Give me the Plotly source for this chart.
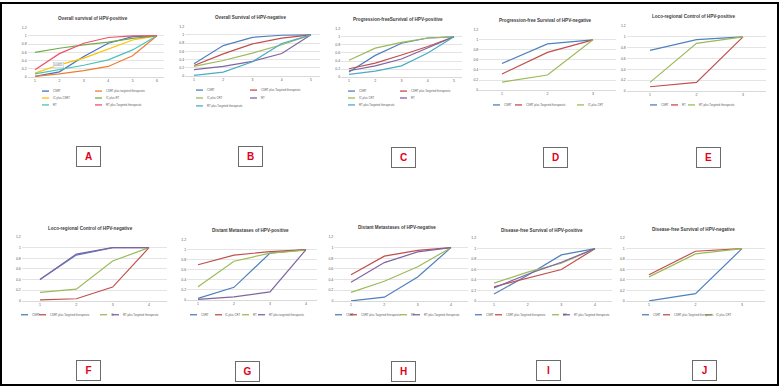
import plotly.graph_objects as go

W, H = 780, 388

# ---------------- data ----------------
A_cats = [1, 2, 3, 4, 5, 6]
A_names = ["CSRT", "CSRT plus targeted therapeutic", "IC plus CSRT", "IC plus RT", "RT", "RT plus Targeted therapeutic"]
A_CSRT = [0.02, 0.13, 0.50, 0.82, 0.98, 1.0]
A_CSRT_T = [0.02, 0.08, 0.16, 0.26, 0.52, 1.0]
A_IC_CSRT = [0.10, 0.30, 0.46, 0.68, 0.90, 1.0]
A_IC_RT = [0.60, 0.70, 0.78, 0.85, 0.94, 1.0]
A_RT = [0.08, 0.18, 0.29, 0.42, 0.66, 1.0]
A_RT_T = [0.18, 0.57, 0.82, 0.96, 1.0, 1.0]

B_cats = [1, 2, 3, 4, 5]
B_names = ["CSRT", "CSRT plus Targeted therapeutic", "IC plus CRT", "RT", "RT plus Targeted therapeutic"]
B_CSRT = [0.30, 0.74, 0.94, 0.99, 1.0]
B_CSRT_T = [0.26, 0.54, 0.78, 0.92, 1.0]
B_IC_CRT = [0.24, 0.38, 0.56, 0.76, 1.0]
B_RT = [0.16, 0.24, 0.36, 0.55, 1.0]
B_RT_T = [0.02, 0.10, 0.35, 0.79, 1.0]

C_cats = [1, 2, 3, 4, 5]
C_names = ["CSRT", "CSRT plus Targeted therapeutic", "IC plus CRT", "RT", "RT plus Targeted therapeutic"]
C_CSRT = [0.13, 0.54, 0.84, 0.97, 1.0]
C_CSRT_T = [0.21, 0.35, 0.55, 0.76, 1.0]
C_IC_CRT = [0.42, 0.72, 0.86, 0.97, 1.0]
C_RT = [0.16, 0.28, 0.45, 0.72, 1.0]
C_RT_T = [0.07, 0.15, 0.28, 0.60, 1.0]

D_cats = [1, 2, 3]
D_names = ["CSRT", "CSRT plus Targeted therapeutic", "IC plus CRT"]
D_CSRT = [0.53, 0.92, 1.0]
D_CSRT_T = [0.32, 0.75, 1.0]
D_IC_CRT = [0.16, 0.30, 1.0]

E_cats = [1, 2, 3]
E_names = ["CSRT", "RT", "RT plus Targeted therapeutic"]
E_CSRT = [0.75, 0.95, 1.0]
E_RT = [0.08, 0.16, 1.0]
E_RT_T = [0.16, 0.88, 1.0]

F_cats = [1, 2, 3, 4]
F_names = ["CSRT", "CSRT plus Targeted therapeutic", "IC", "RT plus Targeted therapeutic"]
F_CSRT = [0.40, 0.86, 1.0, 1.0]
F_CSRT_T = [0.02, 0.04, 0.26, 1.0]
F_IC = [0.16, 0.22, 0.75, 1.0]
F_RT_T = [0.40, 0.88, 1.0, 1.0]

G_cats = [1, 2, 3, 4]
G_names = ["CSRT", "IC plus CRT", "RT", "RT plus targeted therapeutic"]
G_CSRT = [0.03, 0.25, 0.93, 1.0]
G_IC_CRT = [0.70, 0.89, 0.96, 1.0]
G_RT = [0.26, 0.77, 0.93, 0.99]
G_RT_T = [0.01, 0.06, 0.16, 1.0]

H_cats = [1, 2, 3, 4]
H_names = ["CSRT", "CSRT plus Targeted therapeutic", "RT", "RT plus Targeted therapeutic"]
H_CSRT = [0.0, 0.07, 0.45, 1.0]
H_CSRT_T = [0.49, 0.84, 0.95, 1.0]
H_RT = [0.16, 0.37, 0.64, 1.0]
H_RT_T = [0.35, 0.72, 0.92, 1.0]

I_cats = [1, 2, 3, 4]
I_names = ["CSRT", "CSRT plus Targeted therapeutic", "RT", "RT plus Targeted therapeutic"]
I_CSRT = [0.13, 0.49, 0.88, 1.0]
I_CSRT_T = [0.27, 0.43, 0.60, 1.0]
I_RT = [0.34, 0.55, 0.72, 1.0]
I_RT_T = [0.25, 0.51, 0.74, 1.0]

J_cats = [1, 2, 3]
J_names = ["CSRT", "CSRT plus Targeted therapeutic", "IC plus CRT"]
J_CSRT = [0.0, 0.14, 1.0]
J_CSRT_T = [0.50, 0.95, 1.0]
J_IC_CRT = [0.46, 0.90, 1.0]

y_ticks = [0, 0.2, 0.4, 0.6, 0.8, 1, 1.2]

# ---------------- styles ----------------
BLUE, RED, GREEN, PURPLE, AQUA = "#4F81BD", "#C0504D", "#9BBB59", "#8064A2", "#4BACC6"
A_colors = ["#4472C4", "#ED7D31", "#FFC000", "#70AD47", "#4BC4B4", "#F0506A"]

panels = [
    dict(label="A", title="Overall survival of HPV-positive", cats=A_cats, names=A_names,
         vals=[A_CSRT, A_CSRT_T, A_IC_CSRT, A_IC_RT, A_RT, A_RT_T], colors=A_colors,
         px1=35, pxN=157, py0=76, py1=34, pad=0.3, tx=93, ty=17,
         leg=[(42, 90), (95, 90), (42, 97), (95, 97), (42, 104), (95, 104)], box=(88, 156)),
    dict(label="B", title="Overall Survival of HPV-negative", cats=B_cats, names=B_names,
         vals=[B_CSRT, B_CSRT_T, B_IC_CRT, B_RT, B_RT_T], colors=[BLUE, RED, GREEN, PURPLE, AQUA],
         px1=194, pxN=311, py0=75, py1=33, pad=0.3, tx=250, ty=16,
         leg=[(196, 89), (250, 89), (196, 97), (250, 97), (196, 105)], box=(250, 156)),
    dict(label="C", title="Progression-freeSurvival of HPV-positive", cats=C_cats, names=C_names,
         vals=[C_CSRT, C_CSRT_T, C_IC_CRT, C_RT, C_RT_T], colors=[BLUE, RED, GREEN, PURPLE, AQUA],
         px1=349, pxN=454, py0=76, py1=35, pad=0.3, tx=398, ty=18,
         leg=[(348, 90), (400, 90), (348, 97), (400, 97), (348, 104)], box=(403, 157)),
    dict(label="D", title="Progression-free Survival of HPV-negative", cats=D_cats, names=D_names,
         vals=[D_CSRT, D_CSRT_T, D_IC_CRT], colors=[BLUE, RED, GREEN],
         px1=502, pxN=593, py0=89, py1=38, pad=0.5, tx=545, ty=19,
         leg=[(493, 104), (515, 104), (577, 104)], box=(555, 157)),
    dict(label="E", title="Loco-regional Control of HPV-positive", cats=E_cats, names=E_names,
         vals=[E_CSRT, E_RT, E_RT_T], colors=[BLUE, RED, GREEN],
         px1=650, pxN=743, py0=90, py1=35, pad=0.5, tx=693, ty=15,
         leg=[(650, 104), (671, 104), (688, 104)], box=(708, 157)),
    dict(label="F", title="Loco-regional Control of HPV-negative", cats=F_cats, names=F_names,
         vals=[F_CSRT, F_CSRT_T, F_IC, F_RT_T], colors=[BLUE, RED, GREEN, PURPLE],
         px1=40, pxN=149, py0=302, py1=248, pad=0.5, tx=90, ty=229,
         leg=[(21, 316), (39, 316), (100, 316), (112, 316)], box=(88, 372)),
    dict(label="G", title="Distant Metastases of HPV-positive", cats=G_cats, names=G_names,
         vals=[G_CSRT, G_IC_CRT, G_RT, G_RT_T], colors=[BLUE, RED, GREEN, PURPLE],
         px1=198, pxN=306, py0=301, py1=250, pad=0.3, tx=250, ty=231,
         leg=[(190, 316), (215, 316), (242, 316), (258, 316)], box=(248, 373)),
    dict(label="H", title="Distant Metastases of HPV-negative", cats=H_cats, names=H_names,
         vals=[H_CSRT, H_CSRT_T, H_RT, H_RT_T], colors=[BLUE, RED, GREEN, PURPLE],
         px1=351, pxN=451, py0=302, py1=248, pad=0.5, tx=397, ty=228,
         leg=[(335, 316), (350, 316), (400, 316), (413, 316)], box=(403, 373)),
    dict(label="I", title="Disease-free Survival of HPV-positive", cats=I_cats, names=I_names,
         vals=[I_CSRT, I_CSRT_T, I_RT, I_RT_T], colors=[BLUE, RED, GREEN, PURPLE],
         px1=494, pxN=595, py0=302, py1=249, pad=0.5, tx=542, ty=231,
         leg=[(475, 316), (495, 316), (552, 316), (563, 316)], box=(548, 372)),
    dict(label="J", title="Disease-free Survival of HPV-negative", cats=J_cats, names=J_names,
         vals=[J_CSRT, J_CSRT_T, J_IC_CRT], colors=[BLUE, RED, GREEN],
         px1=649, pxN=742, py0=302, py1=249, pad=0.5, tx=693, ty=230,
         leg=[(642, 316), (663, 316), (705, 316)], box=(704, 372)),
]


def xp(px):
    return px / W


def yp(py):
    return 1 - py / H


FONT = "Liberation Sans"
fig = go.Figure()
layout = dict(width=W, height=H, margin=dict(l=0, r=0, t=0, b=0),
              paper_bgcolor="white", plot_bgcolor="white", showlegend=False)
annotations = []
shapes = []

for i, p in enumerate(panels):
    k = "" if i == 0 else str(i + 1)
    n = len(p["cats"])
    step = (p["pxN"] - p["px1"]) / (n - 1)
    left = p["px1"] - p["pad"] * step
    right = p["pxN"] + p["pad"] * step
    ytop = p["py0"] - 1.2 * (p["py0"] - p["py1"])
    for name, v, c in zip(p["names"], p["vals"], p["colors"]):
        fig.add_trace(go.Scatter(x=p["cats"], y=v, mode="lines", name=name,
                                 line=dict(color=c, width=1.2),
                                 xaxis="x" + k, yaxis="y" + k, hoverinfo="skip"))
    layout["xaxis" + k] = dict(domain=[xp(left), xp(right)], range=[1 - p["pad"], n + p["pad"]],
                               anchor="y" + k, tickvals=p["cats"], showgrid=False, zeroline=False,
                               showline=True, linecolor="#D9D9D9", linewidth=0.8,
                               ticks="", tickfont=dict(size=3.5, color="#595959", family=FONT))
    layout["yaxis" + k] = dict(domain=[yp(p["py0"]), yp(ytop)], range=[0, 1.205],
                               anchor="x" + k, tickvals=y_ticks, showgrid=True,
                               gridcolor="#E4E4E4", gridwidth=0.8, zeroline=False,
                               showline=False, ticks="",
                               tickfont=dict(size=3.5, color="#595959", family=FONT))
    annotations.append(dict(x=xp(p["tx"]), y=yp(p["ty"]), xref="paper", yref="paper",
                            xanchor="center", yanchor="middle",
                            text="<b>" + p["title"] + "</b>", showarrow=False,
                            font=dict(size=4.6, color="#404040", family=FONT)))
    # legend
    for name, c, (lx, ly) in zip(p["names"], p["colors"], p["leg"]):
        shapes.append(dict(type="line", xref="paper", yref="paper",
                           x0=xp(lx), x1=xp(lx + 7), y0=yp(ly), y1=yp(ly),
                           line=dict(color=c, width=1.3)))
        annotations.append(dict(x=xp(lx + 8.5), y=yp(ly), xref="paper", yref="paper",
                                xanchor="left", yanchor="middle", text=name, showarrow=False,
                                font=dict(size=2.8, color="#595959", family=FONT)))
    # panel letter box
    bx, by = p["box"]
    annotations.append(dict(x=xp(bx), y=yp(by), xref="paper", yref="paper",
                            xanchor="center", yanchor="middle",
                            text="<b>" + p["label"] + "</b>", showarrow=False,
                            width=21, height=17, borderpad=1, bordercolor="#6B6B6B",
                            borderwidth=1, bgcolor="white",
                            font=dict(size=10, color="#E2001A", family=FONT)))

# small data label in panel A
annotations.append(dict(x=1.95, y=0.3, xref="x", yref="y", text="0.0821", showarrow=False,
                        bgcolor="white", bordercolor="#BFBFBF", borderwidth=0.5, borderpad=0.5,
                        font=dict(size=2.8, color="#595959", family=FONT)))

# outer frame
shapes.append(dict(type="rect", xref="paper", yref="paper", x0=xp(1), x1=xp(778),
                   y0=yp(387), y1=yp(1), line=dict(color="black", width=2)))

layout["annotations"] = annotations
layout["shapes"] = shapes
fig.update_layout(**layout)
fig.write_html("out.html", config={"displayModeBar": False},
               post_script="document.body.style.margin='0';document.body.style.overflow='hidden';")
